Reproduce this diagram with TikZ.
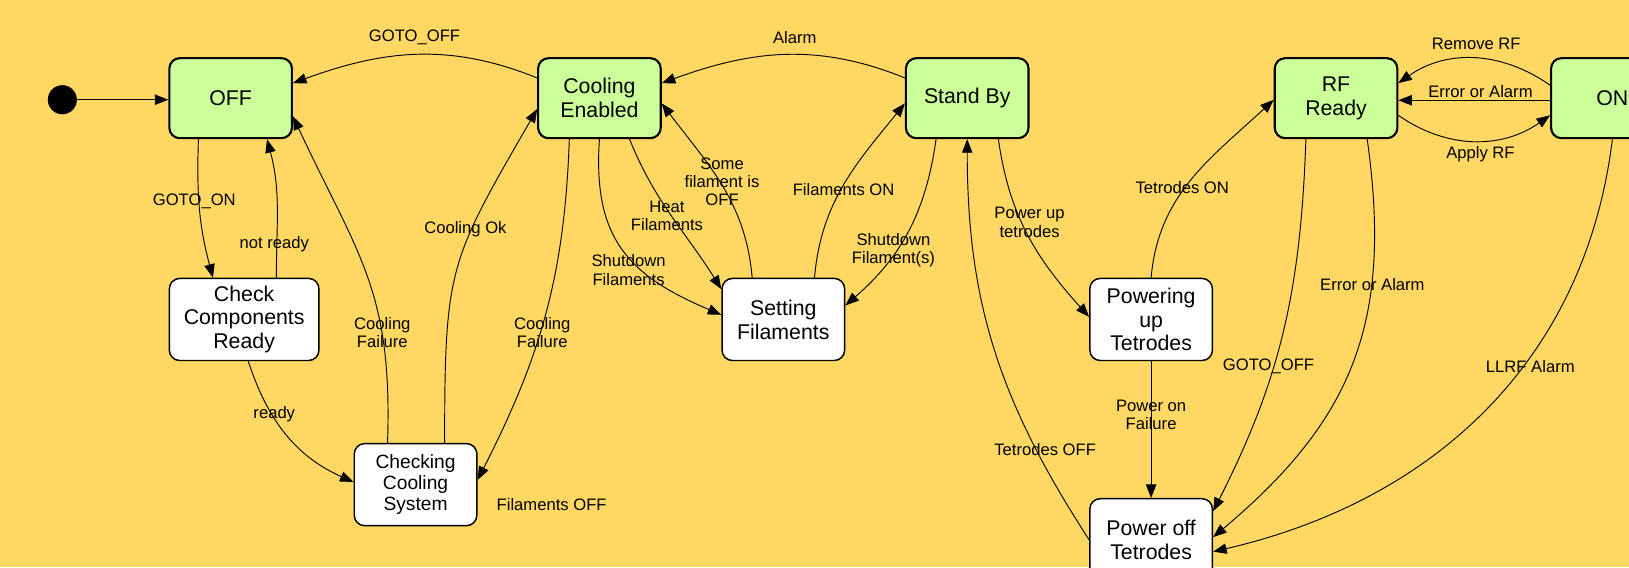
\documentclass[tikz,border=0pt]{standalone}
\usepackage{fontspec}
\setmainfont{Liberation Sans}
\usetikzlibrary{arrows.meta}
\definecolor{bgcol}{HTML}{FFD863}
\definecolor{stgreen}{HTML}{CCFF99}
\begin{document}
\begin{tikzpicture}[x=1pt,y=1pt,
  gstate/.style={draw, line width=2pt, rounded corners=10pt, fill=stgreen, minimum width=118pt, minimum height=77pt, align=center, inner sep=2pt, font=\fontsize{20.5}{23}\selectfont},
  wstate/.style={gstate, fill=white, line width=1.4pt, minimum height=79pt},
  lbl/.style={align=center, inner sep=0pt, font=\fontsize{16}{17.5}\selectfont},
  tr/.style={line width=0.9pt, -{Triangle[length=13pt,width=10pt]}},
  initdot/.style={circle, fill=black, minimum size=28pt, inner sep=0pt},
]
\useasboundingbox (0,0) rectangle (1568,-546);
\fill[bgcol] (0,0) rectangle (1568,-546);
\clip (0,0) rectangle (1568,-546);

% states
\node[initdot] (init) at (60,-96) {};
\node[gstate] (off) at (222,-94.5) {OFF};
\node[gstate] (ce) at (577,-94.5) {Cooling\\Enabled};
\node[gstate] (sb) at (931,-94.5) {Stand By};
\node[gstate] (rf) at (1286,-94.5) {RF\\Ready};
\node[gstate] (on) at (1552,-94.5) {ON};
\node[wstate, minimum width=144pt] (check) at (235,-307.5) {Check\\Components\\Ready};
\node[wstate, font=\fontsize{18.5}{20.5}\selectfont] (checking) at (400,-466.5) {Checking\\Cooling\\System};
\node[wstate] (sf) at (754,-307.5) {Setting\\Filaments};
\node[wstate] (pu) at (1108,-307.5) {Powering\\up\\Tetrodes};
\node[wstate] (po) at (1108,-519.5) {Power off\\Tetrodes};

% transitions
\draw[tr] (init.east) -- (init.east -| off.west);
\draw[tr] ([yshift=19.5pt]ce.west) to[out=158,in=20] ([yshift=14.5pt]off.east);
\draw[tr] ([xshift=-31pt]off.south) to[out=-92,in=105] ([xshift=-30pt]check.north);
\draw[tr] ([xshift=31pt]check.north) to[out=90,in=-75] ([xshift=35pt]off.south);
\draw[tr] ([xshift=-27pt]checking.north) to[out=88,in=-65,looseness=1.15] ([yshift=-17.5pt]off.east);
\draw[tr] ([xshift=28pt]checking.north) to[out=90,in=-120,looseness=1.3] ([yshift=-10.5pt]ce.west);
\draw[tr] ([xshift=-29pt]ce.south) to[out=-92,in=63] ([yshift=4.5pt]checking.east);
\draw[tr] ([xshift=4pt]check.south) to[out=-72,in=156] ([yshift=2.5pt]checking.west);
\draw[tr] (ce.south) to[out=-94,in=157,looseness=1.2] ([yshift=4.5pt]sf.west);
\draw[tr] ([xshift=29pt]ce.south) to[out=-68,in=122] ([yshift=-11pt]sf.north west);
\draw[tr] ([xshift=-30pt]sf.north) to[out=95,in=-53] ([yshift=-5pt]ce.east);
\draw[tr] ([xshift=30pt]sf.north) to[out=85,in=-129] ([yshift=-5pt]sb.west);
\draw[tr] ([xshift=-30pt]sb.south) to[out=-98,in=41] ([yshift=13.5pt]sf.east);
\draw[tr] ([yshift=19.5pt]sb.west) to[out=158,in=20] ([yshift=14.5pt]ce.east);
\draw[tr] ([xshift=30pt]sb.south) to[out=-82,in=132] ([yshift=2.5pt]pu.west);
\draw[tr] (po.west) to[out=123,in=-90] (sb.south);
\draw[tr] (pu.north) to[out=85,in=-137] ([yshift=-1.5pt]rf.west);
\draw[tr] (pu.south) -- (po.north);
\draw[tr] ([xshift=-29pt]rf.south) to[out=-92,in=63] ([yshift=27.5pt]po.east);
\draw[tr] ([xshift=30pt]rf.south) to[out=-82,in=40,looseness=1.1] ([yshift=2.5pt]po.east);
\draw[tr] (on.south) to[out=-97,in=13] ([yshift=-11.5pt]po.east);
\draw[tr] ([yshift=12.5pt]on.west) to[out=145,in=35] ([yshift=14.5pt]rf.east);
\draw[tr] ([yshift=-2pt]on.west) -- ([yshift=-2pt]rf.east);
\draw[tr] ([yshift=-16.5pt]rf.east) to[out=-35,in=-145] ([yshift=-16.5pt]on.west);

% labels
\node[lbl] (l1) at (399,-36) {GOTO\_OFF};
\node[lbl] (l2) at (765,-36) {Alarm};
\node[lbl] (l3) at (1421,-42) {Remove RF};
\node[lbl] (l4) at (1425,-88) {Error or Alarm};
\node[lbl] (l5) at (1425,-148) {Apply RF};
\node[lbl] (l6) at (187,-194) {GOTO\_ON};
\node[lbl] (l7) at (264,-235) {not ready};
\node[lbl] (l8) at (448,-221) {Cooling Ok};
\node[lbl] (l9) at (368,-320) {Cooling\\Failure};
\node[lbl] (l10) at (522,-320) {Cooling\\Failure};
\node[lbl] (l11) at (264,-399) {ready};
\node[lbl] (l12) at (531,-486) {Filaments OFF};
\node[lbl] (l13) at (642,-208) {Heat\\Filaments};
\node[lbl] (l14) at (695,-175) {Some\\filament is\\OFF};
\node[lbl] (l15) at (605,-260) {Shutdown\\Filaments};
\node[lbl] (l16) at (812,-182) {Filaments ON};
\node[lbl] (l17) at (860,-241) {Shutdown\\Filament(s)};
\node[lbl] (l18) at (991,-214) {Power up\\tetrodes};
\node[lbl] (l19) at (1138,-181) {Tetrodes ON};
\node[lbl] (l20) at (1321,-274) {Error or Alarm};
\node[lbl] (l21) at (1221,-353) {GOTO\_OFF};
\node[lbl] (l22) at (1473,-353) {LLRF Alarm};
\node[lbl] (l23) at (1108,-399) {Power on\\Failure};
\node[lbl] (l24) at (1006,-433) {Tetrodes OFF};
\end{tikzpicture}
\end{document}
